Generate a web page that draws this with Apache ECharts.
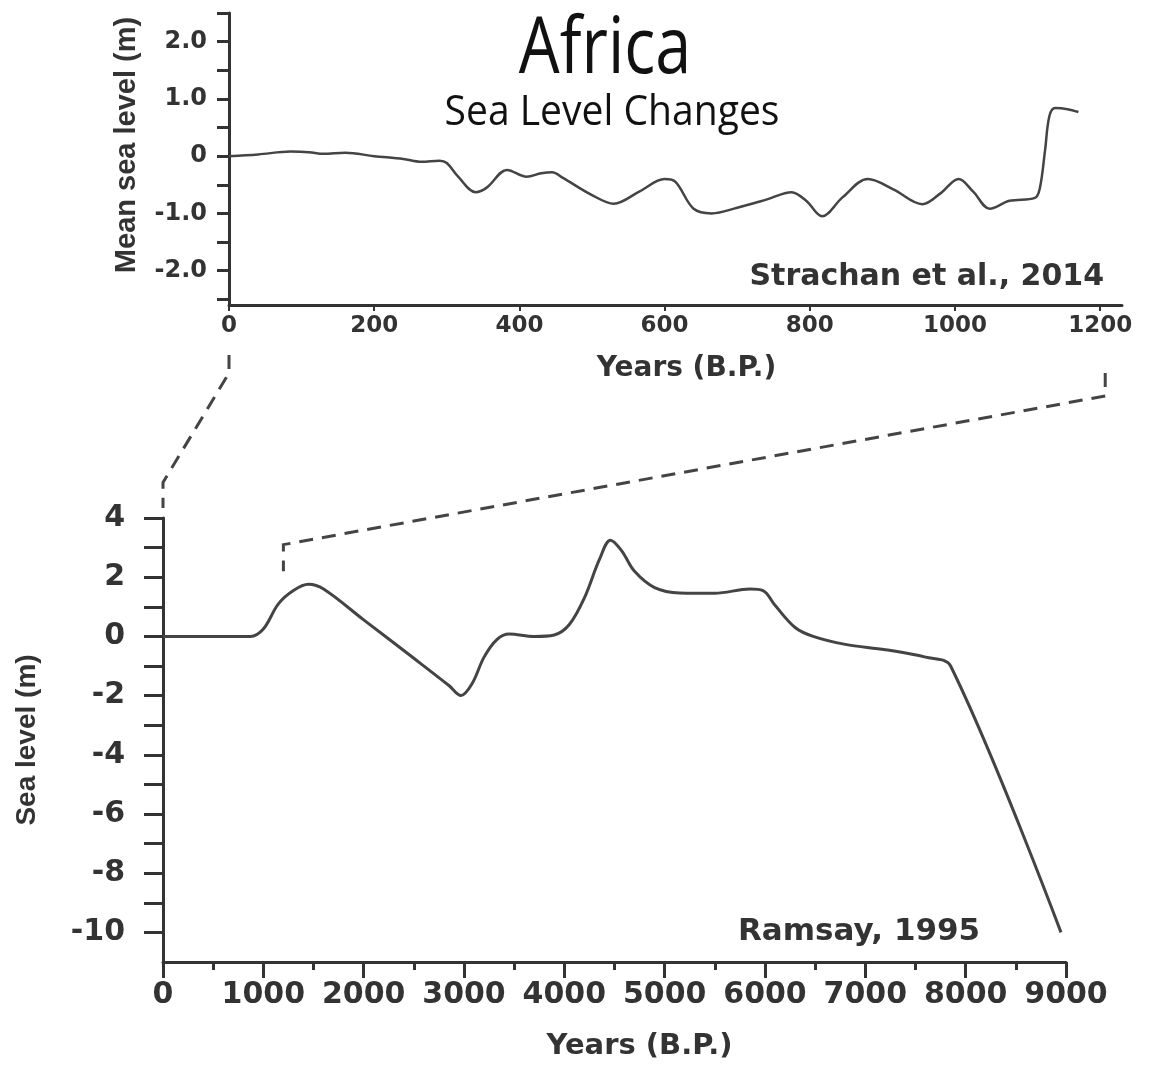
<!DOCTYPE html>
<html>
<head>
<meta charset="utf-8">
<script src="https://cdn.jsdelivr.net/npm/echarts@6/dist/echarts.min.js"></script>
<style>
  html, body { margin: 0; padding: 0; background: #fff; }
  #chart { width: 1155px; height: 1066px; }
</style>
</head>
<body>
<div id="chart"></div>
<script>
// Strachan et al., 2014 (top panel)
var strachanYears = [0, 40, 85, 110, 130, 160, 200, 240, 265, 290, 300, 315, 340, 355, 383, 410, 430, 445, 460, 500, 530, 565, 600, 615, 640, 665, 700, 740, 775, 795, 817, 845, 880, 915, 955, 980, 1005, 1025, 1048, 1075, 1110, 1117, 1124, 1130, 1138, 1155, 1170];
var strachanLevel = [0, 0.03, 0.08, 0.07, 0.04, 0.06, 0, -0.05, -0.1, -0.08, -0.12, -0.35, -0.63, -0.55, -0.24, -0.36, -0.3, -0.28, -0.38, -0.68, -0.83, -0.62, -0.4, -0.45, -0.92, -1.0, -0.9, -0.76, -0.63, -0.78, -1.05, -0.72, -0.4, -0.58, -0.84, -0.65, -0.4, -0.62, -0.92, -0.78, -0.73, -0.55, 0.1, 0.7, 0.84, 0.82, 0.77];

// Ramsay, 1995 (bottom panel)
var ramsayYears = [0, 870, 1000, 1150, 1300, 1450, 1600, 2000, 2500, 2850, 2970, 3080, 3200, 3330, 3450, 3700, 3900, 4050, 4200, 4350, 4460, 4570, 4700, 4900, 5150, 5500, 5850, 5980, 6100, 6300, 6480, 6800, 7200, 7600, 7850, 8950];
var ramsayLevel = [0, 0, 0.25, 1.1, 1.55, 1.76, 1.6, 0.56, -0.74, -1.66, -2.0, -1.6, -0.7, -0.1, 0.08, 0.0, 0.05, 0.4, 1.3, 2.6, 3.25, 2.9, 2.2, 1.65, 1.47, 1.46, 1.6, 1.55, 1.05, 0.3, 0.0, -0.27, -0.45, -0.7, -1.0, -10.0];

// ticks and labels
var topXLabels = [0, 200, 400, 600, 800, 1000, 1200];
var topYLabels = [-2, -1, 0, 1, 2];
var topYTicks = [-2.5, -2, -1.5, -1, -0.5, 0, 0.5, 1, 1.5, 2, 2.5];
var bottomYLabels = [-10, -8, -6, -4, -2, 0, 2, 4];
var bottomYTicks = [-10, -9, -8, -7, -6, -5, -4, -3, -2, -1, 0, 1, 2, 3, 4];

// the year span the dashed guides connect
var zoomSpan = [0, 1200];

var chart = echarts.init(document.getElementById("chart"), null, { renderer: "canvas" });

var ink = "#333";
var hFont = "DejaVu Sans";
var vFont = "Liberation Sans";

function pairs(xs, ys) {
	return xs.map(function (x, i) { return [x, ys[i]]; });
}
function plain(v) {
	return String(v);
}

var option = {
	backgroundColor: "#fff",
	animation: false,
	grid: [
		{ left: 229, top: 13, width: 893, height: 292 },
		{ left: 163, top: 518, width: 903, height: 444 }
	],
	xAxis: [
		{
			gridIndex: 0,
			type: "value",
			min: 0,
			max: 1230,
			name: "Years (B.P.)",
			nameLocation: "middle",
			nameGap: 50,
			nameTextStyle: { fontFamily: hFont, fontWeight: "bold", fontSize: 28, color: ink, padding: [0, 0, 0, 22] },
			splitLine: { show: false },
			axisLine: { onZero: false, lineStyle: { color: ink, width: 3 } },
			axisTick: { customValues: topXLabels, length: 6, lineStyle: { color: ink, width: 2 } },
			axisLabel: { customValues: topXLabels, margin: 10, fontFamily: hFont, fontWeight: "bold", fontSize: 23, color: ink, formatter: plain }
		},
		{
			gridIndex: 1,
			type: "value",
			min: 0,
			max: 9000,
			interval: 1000,
			name: "Years (B.P.)",
			nameLocation: "middle",
			nameGap: 70,
			nameTextStyle: { fontFamily: hFont, fontWeight: "bold", fontSize: 29, color: ink, padding: [0, 0, 0, 50] },
			splitLine: { show: false },
			axisLine: { onZero: false, lineStyle: { color: ink, width: 3 } },
			axisTick: { length: 16, lineStyle: { color: ink, width: 3 } },
			minorTick: { show: true, splitNumber: 2, length: 8, lineStyle: { color: ink, width: 3 } },
			axisLabel: { margin: 18, fontFamily: hFont, fontWeight: "bold", fontSize: 30, color: ink, formatter: plain }
		}
	],
	yAxis: [
		{
			gridIndex: 0,
			type: "value",
			min: -2.6,
			max: 2.5,
			name: "Mean sea level (m)",
			nameLocation: "middle",
			nameGap: 88,
			nameTextStyle: { fontFamily: vFont, fontWeight: "bold", fontSize: 29, color: ink, padding: [0, 0, 0, 28] },
			splitLine: { show: false },
			axisLine: { onZero: false, lineStyle: { color: ink, width: 3 } },
			axisTick: { customValues: topYTicks, length: 12, lineStyle: { color: ink, width: 3 } },
			axisLabel: {
				customValues: topYLabels,
				margin: 22,
				fontFamily: hFont,
				fontWeight: "bold",
				fontSize: 24,
				color: ink,
				formatter: function (v) { return v === 0 ? "0" : v.toFixed(1); }
			}
		},
		{
			gridIndex: 1,
			type: "value",
			min: -11,
			max: 4,
			name: "Sea level (m)",
			nameLocation: "middle",
			nameGap: 122,
			nameTextStyle: { fontFamily: vFont, fontWeight: "bold", fontSize: 28, color: ink },
			splitLine: { show: false },
			axisLine: { onZero: false, lineStyle: { color: ink, width: 3 } },
			axisTick: { customValues: bottomYTicks, length: 19, lineStyle: { color: ink, width: 3 } },
			axisLabel: { customValues: bottomYLabels, margin: 38, fontFamily: hFont, fontWeight: "bold", fontSize: 30, color: ink }
		}
	],
	series: [
		{
			type: "line",
			xAxisIndex: 0,
			yAxisIndex: 0,
			data: pairs(strachanYears, strachanLevel),
			showSymbol: false,
			smooth: 0.35,
			lineStyle: { color: "#444", width: 2.5 }
		},
		{
			type: "line",
			xAxisIndex: 1,
			yAxisIndex: 1,
			data: pairs(ramsayYears, ramsayLevel),
			showSymbol: false,
			smooth: 0.35,
			lineStyle: { color: "#444", width: 3 }
		}
	]
};
chart.setOption(option);

// title, citations and the dashed guides between the panels
var t0 = chart.convertToPixel({ gridIndex: 0 }, [zoomSpan[0], 0]);
var t1 = chart.convertToPixel({ gridIndex: 0 }, [zoomSpan[1], 0]);
var b0 = chart.convertToPixel({ gridIndex: 1 }, [zoomSpan[0], 5.2]);
var b1 = chart.convertToPixel({ gridIndex: 1 }, [zoomSpan[1], 3.1]);
var b1end = chart.convertToPixel({ gridIndex: 1 }, [zoomSpan[1], 2.2]);

var dash = { stroke: "#444", lineWidth: 3, lineDash: [14, 9], fill: null };

chart.setOption({
	graphic: [
		{
			type: "text", x: 605, y: 51, scaleX: 0.83,
			style: { text: "Africa", font: "78px 'Open Sans'", fill: "#111", align: "center", verticalAlign: "middle" }
		},
		{
			type: "text", x: 612, y: 113, scaleX: 0.93,
			style: { text: "Sea Level Changes", font: "42px 'Open Sans'", fill: "#111", align: "center", verticalAlign: "middle" }
		},
		{
			type: "text", x: 1104, y: 277,
			style: { text: "Strachan et al., 2014", font: "bold 30px 'DejaVu Sans'", fill: ink, align: "right", verticalAlign: "middle" }
		},
		{
			type: "text", x: 738, y: 932,
			style: { text: "Ramsay, 1995", font: "bold 31px 'DejaVu Sans'", fill: ink, align: "left", verticalAlign: "middle" }
		},
		{
			type: "polyline",
			shape: { points: [[t0[0], 355], [t0[0], 373], [b0[0], b0[1]], [b0[0], 508]] },
			style: dash
		},
		{
			type: "polyline",
			shape: { points: [[t1[0] + 5, 373], [t1[0] + 5, 396], [b1[0], b1[1]], [b1end[0], b1end[1]]] },
			style: dash
		}
	]
});

window.addEventListener("resize", function () {
	chart.resize();
});
</script>
</body>
</html>
